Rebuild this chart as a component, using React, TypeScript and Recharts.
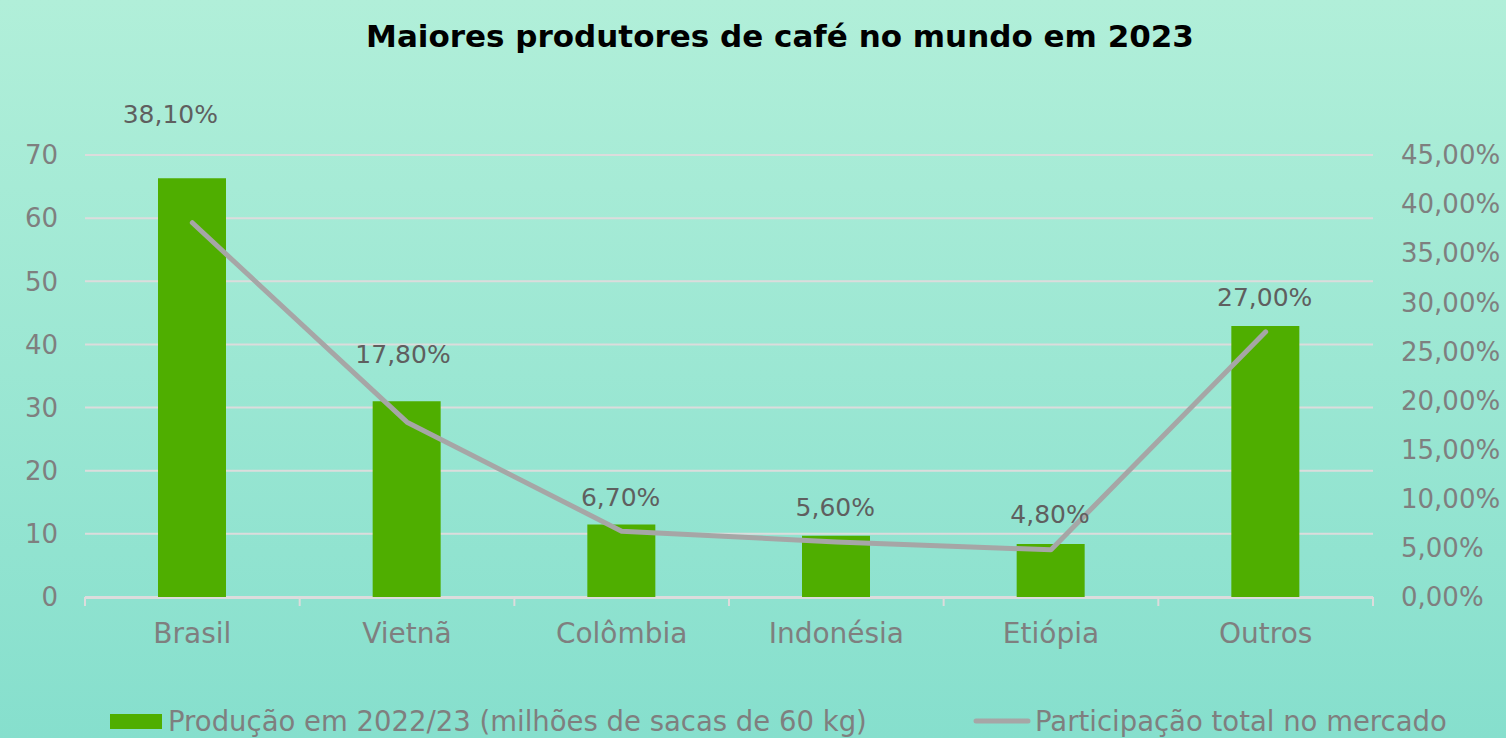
import React from 'react';
import { ComposedChart, Bar, Line, XAxis, YAxis, CartesianGrid, LabelList } from 'recharts';

const categories = ['Brasil', 'Vietnã', 'Colômbia', 'Indonésia', 'Etiópia', 'Outros'];
const production = [66.3, 31.0, 11.5, 9.7, 8.4, 42.9];
const share = [38.1, 17.8, 6.7, 5.6, 4.8, 27.0];
const leftTicks = [0, 10, 20, 30, 40, 50, 60, 70];
const rightTicks = [0, 5, 10, 15, 20, 25, 30, 35, 40, 45];
const boundaryTicks = [0, 1, 2, 3, 4, 5, 6];

const title = 'Maiores produtores de café no mundo em 2023';
const seriesBarName = 'Produção em 2022/23 (milhões de sacas de 60 kg)';
const seriesLineName = 'Participação total no mercado';

// style nudges for the data labels (Excel manual placement)
const LABEL_LIFT = [108, 68, 34, 34, 35, 34];
const LABEL_DX = [-22, -4, -1, -1, -1, -1];

const data = categories.map((c, i) => ({ name: c, idx: i + 0.5, production: production[i], share: share[i] }));

const FONT = '"DejaVu Sans", sans-serif';
const GREEN = '#4FAE00';
const LINE = '#A6A6A6';
const GRID = '#DCDCDC';
const AXIS_TXT = '#7F7F7F';

const fmtPct = (v: number) => v.toFixed(2).replace('.', ',') + '%';

const ShareLabel = (props: any) => {
  const { x, y, index, value } = props;
  return (
    <text
      x={x + LABEL_DX[index]}
      y={y - LABEL_LIFT[index]}
      textAnchor="middle"
      dominantBaseline="central"
      fill="#5F5F5F"
      fontSize={25}
      fontFamily={FONT}
    >
      {fmtPct(value)}
    </text>
  );
};

const BoundaryTick = (p: any) => (
  <line x1={p.x} x2={p.x} y1={p.y - 9} y2={p.y} stroke={GRID} strokeWidth={2} />
);

export default function App() {
  return (
    <div
      style={{
        position: 'absolute',
        left: 0,
        top: 0,
        width: 1506,
        height: 738,
        overflow: 'hidden',
        background: 'linear-gradient(180deg, #B1EFD9 0%, #86DFCD 100%)',
        fontFamily: FONT,
      }}
    >
      <ComposedChart
        width={1506}
        height={738}
        data={data}
        margin={{ top: 155, right: 0, left: 0, bottom: 80 }}
        barCategoryGap={0}
      >
        <CartesianGrid yAxisId="left" xAxisId="cat" vertical={false} stroke={GRID} strokeWidth={2} />
        <XAxis
          xAxisId="b"
          type="number"
          dataKey="idx"
          domain={[0, 6]}
          ticks={boundaryTicks}
          height={1}
          axisLine={false}
          tick={BoundaryTick}
          tickLine={false}
          tickSize={9}
          tickMargin={0}
          interval={0}
          allowDataOverflow
        />
        <XAxis
          xAxisId="cat"
          dataKey="name"
          height={60}
          axisLine={{ stroke: GRID, strokeWidth: 2 }}
          tickLine={false}
          tickSize={0}
          tickMargin={25}
          tick={{ fill: AXIS_TXT, fontSize: 28, fontFamily: FONT }}
        />
        <YAxis
          yAxisId="left"
          width={85}
          domain={[0, 70]}
          ticks={leftTicks}
          axisLine={false}
          tickLine={false}
          tickSize={0}
          tickMargin={27}
          tick={{ fill: AXIS_TXT, fontSize: 26, fontFamily: FONT }}
        />
        <YAxis
          yAxisId="right"
          orientation="right"
          width={133}
          domain={[0, 45]}
          ticks={rightTicks}
          axisLine={false}
          tickLine={false}
          tickSize={0}
          tickMargin={28}
          tickFormatter={fmtPct}
          tick={{ fill: AXIS_TXT, fontSize: 26, fontFamily: FONT }}
        />
        <Bar
          xAxisId="cat"
          yAxisId="left"
          dataKey="production"
          name={seriesBarName}
          fill={GREEN}
          barSize={68}
          isAnimationActive={false}
        />
        <Line
          xAxisId="cat"
          yAxisId="right"
          dataKey="share"
          name={seriesLineName}
          stroke={LINE}
          strokeWidth={5}
          strokeLinecap="round"
          strokeLinejoin="round"
          dot={false}
          activeDot={false}
          isAnimationActive={false}
        >
          <LabelList dataKey="share" content={ShareLabel} />
        </Line>
      </ComposedChart>
      <svg
        width={1506}
        height={738}
        style={{ position: 'absolute', left: 0, top: 0, pointerEvents: 'none' }}
      >
        <text x={780} y={47} textAnchor="middle" fontSize={31} fontWeight="bold" fill="#000" fontFamily={FONT}>
          {title}
        </text>
        <rect x={110} y={714} width={52} height={15} fill={GREEN} />
        <text x={168} y={731} fontSize={27.5} fill={AXIS_TXT} fontFamily={FONT}>
          {seriesBarName}
        </text>
        <line x1={976} x2={1028} y1={721} y2={721} stroke={LINE} strokeWidth={5} strokeLinecap="round" />
        <text x={1035} y={731} fontSize={27.5} fill={AXIS_TXT} fontFamily={FONT}>
          {seriesLineName}
        </text>
      </svg>
    </div>
  );
}
